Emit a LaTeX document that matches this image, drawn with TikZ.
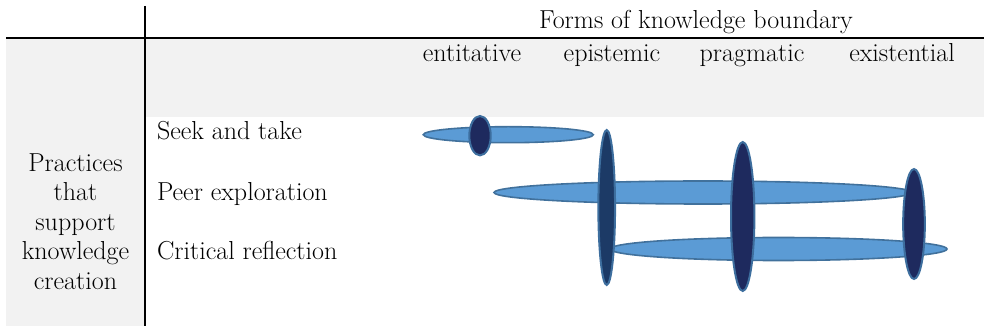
\documentclass[tikz,border=0pt]{standalone}
\usepackage{fontspec}
\usetikzlibrary{shapes.geometric}
\definecolor{panelgray}{HTML}{F2F2F2}
\definecolor{barfill}{HTML}{5B9BD5}
\definecolor{barline}{HTML}{41719C}
\definecolor{dotfill}{HTML}{1E2A5E}
\definecolor{dotfillb}{HTML}{1C3A66}
\definecolor{dotline}{HTML}{3D6E9E}
\tikzset{
  txt/.style={inner sep=0pt, outer sep=0pt, font=\rmfamily\fontsize{26}{30}\selectfont},
  bar/.style={ellipse, inner sep=0pt, outer sep=0pt, fill=barfill, draw=barline, line width=1.6pt},
  dot/.style={ellipse, inner sep=0pt, outer sep=0pt, fill=dotfill, draw=dotline, line width=2pt},
  rule/.style={line width=2pt, black}
}
\begin{document}
\begin{tikzpicture}[x=1pt,y=-1pt]
\useasboundingbox (0,0) rectangle (984,328);
% panels
\fill[panelgray] (6,38) rectangle (145,326);
\fill[panelgray] (145,38) rectangle (984,117);
% rules
\coordinate (hl) at (6,38);
\coordinate (hr) at (984,38);
\coordinate (vt) at (145,6);
\coordinate (vb) at (145,326);
\draw[rule] (hl) -- (hr);
\draw[rule] (vt) -- (vb);
% header texts
\node[txt, anchor=base] (hdr) at (696,28.5) {Forms of knowledge boundary};
\node[txt, anchor=base] (c1) at (472,62) {entitative};
\node[txt, anchor=base] (c2) at (612,62) {epistemic};
\node[txt, anchor=base] (c3) at (752,62) {pragmatic};
\node[txt, anchor=base] (c4) at (902,62) {existential};
% row labels
\node[txt, anchor=base west] (r1) at (157,140) {Seek and take};
\node[txt, anchor=base west] (r2) at (157,201) {Peer exploration};
\node[txt, anchor=base west] (r3) at (157,259.5) {Critical reflection};
% left column
\node[txt, anchor=base] (l1) at (75.5,171.5) {Practices};
\node[txt, anchor=base] (l2) at (75.5,201) {that};
\node[txt, anchor=base] (l3) at (75.5,230.5) {support};
\node[txt, anchor=base] (l4) at (75.5,260) {knowledge};
\node[txt, anchor=base] (l5) at (75.5,289.5) {creation};
% horizontal bars
\node[bar, minimum width=170pt, minimum height=16pt] (seekbar) at (508.3,134.7) {};
\node[bar, minimum width=418pt, minimum height=23pt] (peerbar) at (703,192.5) {};
\node[bar, minimum width=337pt, minimum height=23pt] (critbar) at (778.5,249) {};
% vertical ovals
\node[dot, minimum width=21.4pt, minimum height=39.4pt] (seekdot) at (480,135.7) {};
\node[dot, fill=dotfillb, minimum width=16.7pt, minimum height=155pt] (epidot) at (606.7,207.5) {};
\node[dot, minimum width=23.4pt, minimum height=149pt] (pragdot) at (742.7,216.5) {};
\node[dot, minimum width=21.7pt, minimum height=110pt] (exidot) at (914,224) {};
\end{tikzpicture}
\end{document}
